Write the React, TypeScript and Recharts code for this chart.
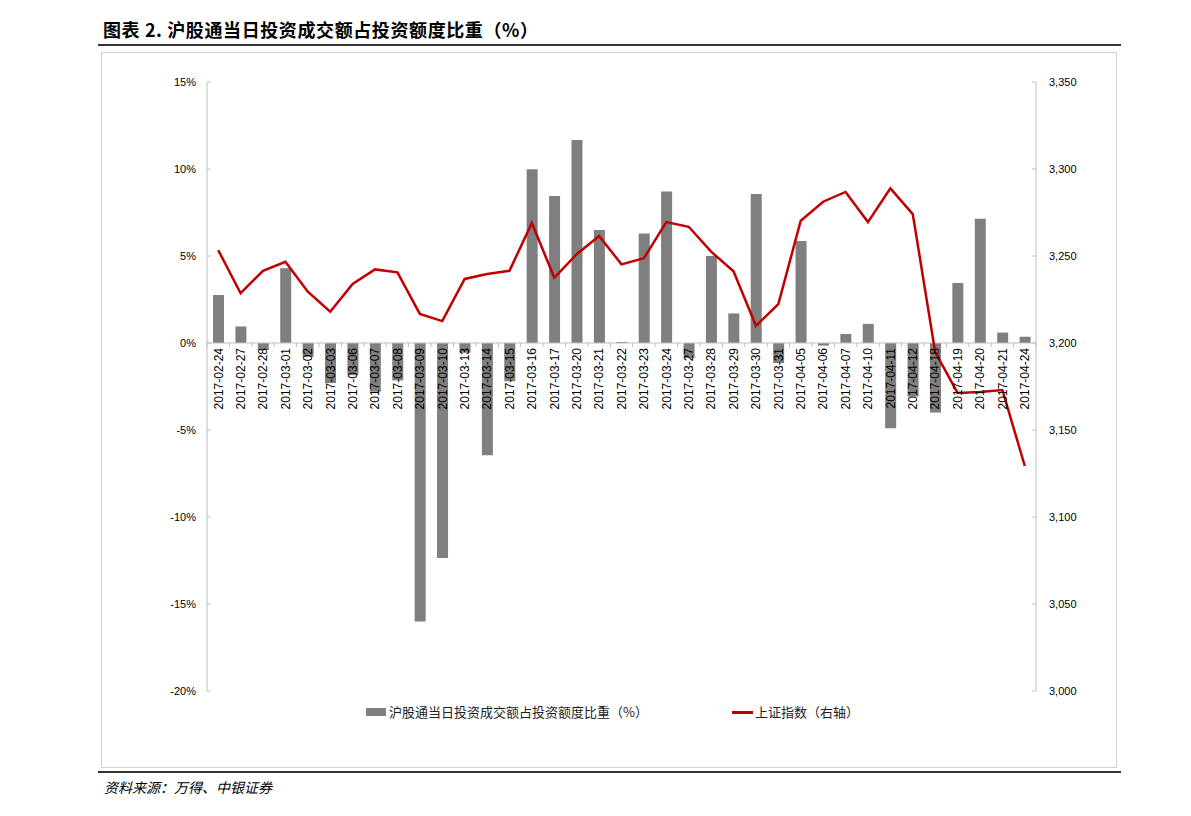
import { Bar, ComposedChart, Line, ReferenceLine, XAxis, YAxis } from 'recharts';

const dates = [
  '2017-02-24', '2017-02-27', '2017-02-28', '2017-03-01', '2017-03-02', '2017-03-03',
  '2017-03-06', '2017-03-07', '2017-03-08', '2017-03-09', '2017-03-10', '2017-03-13',
  '2017-03-14', '2017-03-15', '2017-03-16', '2017-03-17', '2017-03-20', '2017-03-21',
  '2017-03-22', '2017-03-23', '2017-03-24', '2017-03-27', '2017-03-28', '2017-03-29',
  '2017-03-30', '2017-03-31', '2017-04-05', '2017-04-06', '2017-04-07', '2017-04-10',
  '2017-04-11', '2017-04-12', '2017-04-18', '2017-04-19', '2017-04-20', '2017-04-21',
  '2017-04-24',
];

// 沪股通当日投资成交额占投资额度比重 (%)
const ratio = [
  2.76, 0.95, -0.4, 4.3, -0.8, -2.3, -1.85, -2.8, -2.15, -16.0, -12.35, -0.56, -6.45,
  -2.2, 9.98, 8.45, 11.67, 6.5, 0.06, 6.3, 8.7, -0.87, 5.0, 1.7, 8.56, -1.15, 5.86,
  -0.15, 0.52, 1.1, -4.9, -3.08, -4.0, 3.45, 7.14, 0.6, 0.36,
];

// 上证指数 (右轴)
const szIndex = [
  3253.4, 3228.6, 3241.5, 3246.7, 3229.5, 3218.0, 3233.9, 3242.3, 3240.6, 3216.7, 3212.6,
  3236.8, 3239.6, 3241.5, 3269.0, 3237.5, 3251.0, 3261.5, 3245.2, 3248.7, 3269.5, 3266.8,
  3252.5, 3241.2, 3209.9, 3222.4, 3270.3, 3281.2, 3286.8, 3269.5, 3288.9, 3274.1, 3194.8,
  3171.3, 3171.8, 3173.0, 3129.3,
];

const leftTicks = [-20, -15, -10, -5, 0, 5, 10, 15];
const rightTicks = [3000, 3050, 3100, 3150, 3200, 3250, 3300, 3350];

const data = dates.map((date, i) => ({ date, ratio: ratio[i], index: szIndex[i] }));

const BAR_NAME = '沪股通当日投资成交额占投资额度比重（%）';
const LINE_NAME = '上证指数（右轴）';

const CHART_W = 1016;
const CHART_H = 716;
const MARGIN = { top: 30, right: 21, bottom: 76, left: 46 };
const PLOT_W = CHART_W - MARGIN.left - MARGIN.right - 120;
const PLOT_H = CHART_H - MARGIN.top - MARGIN.bottom - 1;
const ZERO_SHIFT = (PLOT_H * 20) / 35;
const BAND = PLOT_W / dates.length;

const AXIS = '#bfbfbf';
const BAR_FILL = '#7f7f7f';
const LINE_STROKE = '#c00000';
const FONT = "'Liberation Sans', Arial, sans-serif";
const CJK = "'Noto Sans CJK SC', sans-serif";

function DateTick(props: any) {
  const { x, y, payload, index } = props;
  const y0 = y - ZERO_SHIFT;
  return (
    <g>
      <line x1={x - BAND / 2} x2={x - BAND / 2} y1={y0} y2={y0 + 4} stroke={AXIS} />
      {index === dates.length - 1 && (
        <line x1={x + BAND / 2} x2={x + BAND / 2} y1={y0} y2={y0 + 4} stroke={AXIS} />
      )}
      <text
        x={x}
        y={y0 + 5}
        transform={`rotate(-90, ${x}, ${y0 + 5})`}
        textAnchor="end"
        dy="0.36em"
        fontSize={12}
        fontFamily={FONT}
        fill="#000"
      >
        {payload.value}
      </text>
    </g>
  );
}

function ChartLegend() {
  return (
    <div
      style={{
        position: 'absolute',
        left: 366,
        top: 703,
        display: 'flex',
        alignItems: 'center',
        fontFamily: CJK,
        fontSize: 13,
        lineHeight: '18px',
        color: '#222',
      }}
    >
      <span style={{ display: 'inline-block', width: 20, height: 8, background: BAR_FILL, marginRight: 3 }} />
      <span>{BAR_NAME}</span>
      <span style={{ display: 'inline-block', width: 21, height: 3, background: LINE_STROKE, marginLeft: 84, marginRight: 2 }} />
      <span>{LINE_NAME}</span>
    </div>
  );
}

export default function App() {
  return (
    <div style={{ position: 'relative', width: 1191, height: 816, margin: -8, background: '#fff' }}>
      <div
        style={{
          position: 'absolute',
          left: 103,
          top: 18,
          fontFamily: CJK,
          fontWeight: 700,
          fontSize: 18,
          lineHeight: '22px',
          letterSpacing: 0.6,
          color: '#000',
        }}
      >
        图表 2. 沪股通当日投资成交额占投资额度比重（%）
      </div>
      <div style={{ position: 'absolute', left: 98, top: 44, width: 1023, height: 2, background: '#333' }} />
      <div
        style={{
          position: 'absolute',
          left: 101,
          top: 52,
          width: CHART_W - 2,
          height: CHART_H - 2,
          border: '1px solid #d0d0d0',
        }}
      />
      <div style={{ position: 'absolute', left: 101, top: 52 }}>
        <ComposedChart width={CHART_W} height={CHART_H} data={data} margin={MARGIN}>
          <YAxis
            yAxisId="left"
            orientation="left"
            width={60}
            domain={[-20, 15]}
            ticks={leftTicks}
            interval={0}
            tickFormatter={(v: number) => `${v}%`}
            axisLine={{ stroke: AXIS }}
            tickLine={{ stroke: AXIS }}
            tickSize={-4}
            tickMargin={15}
            tick={{ fontSize: 11, fontFamily: FONT, fill: '#000' }}
          />
          <YAxis
            yAxisId="right"
            orientation="right"
            width={60}
            domain={[3000, 3350]}
            ticks={rightTicks}
            interval={0}
            tickFormatter={(v: number) => v.toLocaleString('en-US')}
            axisLine={{ stroke: AXIS }}
            tickLine={{ stroke: AXIS }}
            tickSize={-4}
            tickMargin={17}
            tick={{ fontSize: 11, fontFamily: FONT, fill: '#000' }}
          />
          <ReferenceLine yAxisId="left" y={0} stroke={AXIS} />
          <Bar
            yAxisId="left"
            dataKey="ratio"
            name={BAR_NAME}
            fill={BAR_FILL}
            barSize={11}
            isAnimationActive={false}
          />
          <Line
            yAxisId="right"
            dataKey="index"
            name={LINE_NAME}
            type="linear"
            stroke={LINE_STROKE}
            strokeWidth={2.5}
            dot={false}
            activeDot={false}
            isAnimationActive={false}
          />
          <XAxis
            dataKey="date"
            interval={0}
            height={1}
            axisLine={false}
            tickLine={false}
            tickSize={0}
            tickMargin={0}
            tick={(p: any) => <DateTick {...p} />}
          />
        </ComposedChart>
      </div>
      <ChartLegend />
      <div style={{ position: 'absolute', left: 98, top: 771, width: 1023, height: 2, background: '#333' }} />
      <div
        style={{
          position: 'absolute',
          left: 104,
          top: 777,
          fontFamily: CJK,
          fontStyle: 'italic',
          fontSize: 14,
          lineHeight: '20px',
          color: '#000',
        }}
      >
        资料来源：万得、中银证券
      </div>
    </div>
  );
}
